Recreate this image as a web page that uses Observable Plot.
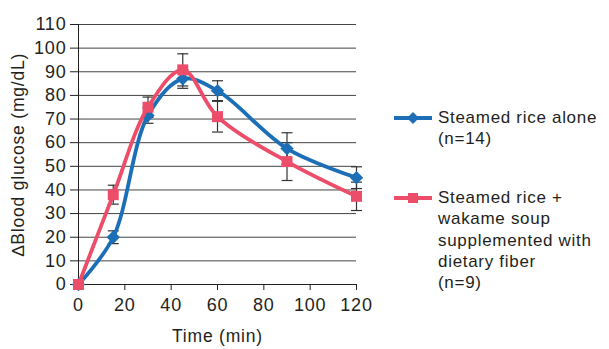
<!DOCTYPE html>
<html>
<head>
<meta charset="utf-8">
<script src="https://cdn.jsdelivr.net/npm/d3@7"></script>
<script src="https://cdn.jsdelivr.net/npm/@observablehq/plot@0.6"></script>
<style>
  body { margin: 0; background: #fff; font-family: "Liberation Sans", Arial, sans-serif; }
  #wrap { position: relative; width: 609px; height: 349px; }
  #legend { position: absolute; left: 393px; top: 0; font-size: 17px; letter-spacing: 0.7px; line-height: 21.3px; color: #231f20; }
  .item { position: absolute; left: 0; display: flex; align-items: flex-start; white-space: nowrap; }
  .item svg { margin-top: 0; margin-right: 5px; flex: none; }
</style>
</head>
<body>
<div id="wrap"></div>
<script>
// Time after the meal (min)
const times = [0, 15, 30, 45, 60, 90, 120];

// Change in blood glucose (mg/dL), mean and standard error
const riceAlone   = [0, 20, 71.5, 87, 82, 57.5, 45.2];
const riceAloneSE = [0, 2.7, 3.3, 4, 4.2, 6.7, 4.6];
const riceWakame   = [0, 38, 75, 90.8, 71, 52, 37.3];
const riceWakameSE = [0, 4, 4.3, 6.8, 6.5, 8, 6];

const seriesNames = ["Steamed rice alone", "Steamed rice + wakame soup supplemented with dietary fiber"];
const seriesN = [14, 9];
const colors = ["#1c6fb7", "#ec4d68"];

const xTicks = [0, 20, 40, 60, 80, 100, 120];
const yTicks = d3.range(0, 111, 10);

const rows = [];
[[riceAlone, riceAloneSE], [riceWakame, riceWakameSE]].forEach(([vals, se], s) => {
  times.forEach((t, i) => rows.push({series: s, t, v: vals[i], lo: vals[i] - se[i], hi: vals[i] + se[i]}));
});
const bySeries = s => rows.filter(d => d.series === s);

// horizontal cap for error bars
const cap = {draw(ctx, size) { const w = Math.sqrt(size / Math.PI); ctx.moveTo(-w, 0); ctx.lineTo(w, 0); }};
const errRows = rows.filter(d => d.t > 0);

const ink = "#231f20";
const chart = Plot.plot({
  width: 609,
  height: 349,
  marginLeft: 78,
  marginRight: 253,
  marginTop: 24,
  marginBottom: 65,
  style: {fontFamily: "Liberation Sans, Arial, sans-serif", color: ink, background: "#fff"},
  x: {domain: [0, 120]},
  y: {domain: [0, 110]},
  marks: [
    Plot.gridY(yTicks.filter(v => v > 0), {stroke: "#444", strokeOpacity: 1, strokeWidth: 1}),
    Plot.axisY({ticks: yTicks, tickSize: 8, tickPadding: 4, fontSize: 18, label: null, stroke: ink}),
    Plot.axisX({ticks: xTicks, tickSize: 6, tickPadding: 8, fontSize: 18, label: null, stroke: ink}),
    Plot.ruleX([0], {stroke: ink, strokeWidth: 1}),
    Plot.ruleY([0], {stroke: ink, strokeWidth: 1}),
    Plot.text(["Time (min)"], {frameAnchor: "bottom", dy: 57, fontSize: 17.5, fill: ink, style: "letter-spacing: 1px"}),
    Plot.text(["\u2206Blood glucose (mg/dL)"], {frameAnchor: "left", textAnchor: "middle", dx: -60, rotate: -90, fontSize: 17.5, fill: ink}),
    // error bars
    Plot.ruleX(errRows, {x: "t", y1: "lo", y2: "hi", stroke: "#333", strokeWidth: 1.2}),
    Plot.dot(errRows, {x: "t", y: "lo", symbol: cap, r: 5.5, stroke: "#333", strokeWidth: 1.2}),
    Plot.dot(errRows, {x: "t", y: "hi", symbol: cap, r: 5.5, stroke: "#333", strokeWidth: 1.2}),
    // series lines and markers
    Plot.line(bySeries(0), {x: "t", y: "v", curve: "catmull-rom", stroke: colors[0], strokeWidth: 3.8}),
    Plot.dot(bySeries(0), {x: "t", y: "v", symbol: "diamond2", r: 6, fill: colors[0]}),
    Plot.line(bySeries(1), {x: "t", y: "v", curve: "catmull-rom", stroke: colors[1], strokeWidth: 3.8}),
    Plot.dot(bySeries(1), {x: "t", y: "v", symbol: "square", r: 6.2, fill: colors[1]})
  ]
});

// wider tracking on the axis titles and tick labels
chart.querySelectorAll("text").forEach(t => t.style.letterSpacing = "0.8px");

const wrap = document.getElementById("wrap");
wrap.appendChild(chart);

// Legend
const legend = document.createElement("div");
legend.id = "legend";
const legendLines = [
  ["Steamed rice alone", `(n=${seriesN[0]})`],
  ["Steamed rice +", "wakame soup", "supplemented with", "dietary fiber", `(n=${seriesN[1]})`]
];
const legendTops = [107, 187];
const markerPath = [
  "M13,5 L19,11 L13,17 L7,11 Z",
  "M8,6 H18 V16 H8 Z"
];
legendLines.forEach((lines, s) => {
  const item = document.createElement("div");
  item.className = "item";
  item.style.top = legendTops[s] + "px";
  item.innerHTML =
    `<svg width="40" height="21" viewBox="0 0 40 21" aria-label="${seriesNames[s]}">` +
    `<line x1="1" x2="39" y1="11" y2="11" stroke="${colors[s]}" stroke-width="3.8"/>` +
    `<path transform="translate(7,0)" d="${markerPath[s]}" fill="${colors[s]}"/></svg>` +
    `<div>${lines.join("<br>")}</div>`;
  legend.appendChild(item);
});
wrap.appendChild(legend);
</script>
</body>
</html>
